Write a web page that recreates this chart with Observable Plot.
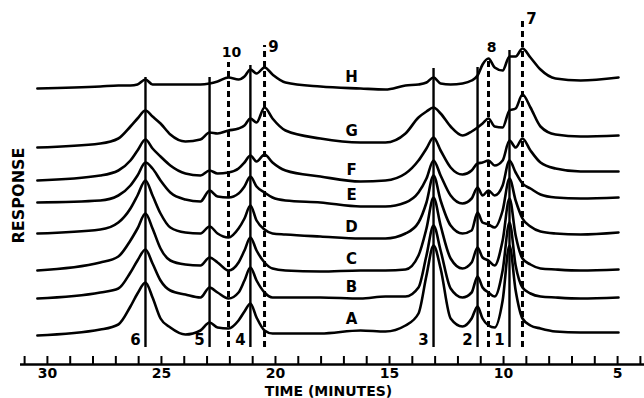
<!DOCTYPE html>
<html>
<head>
<meta charset="utf-8">
<script src="https://cdn.jsdelivr.net/npm/d3@7"></script>
<script src="https://cdn.jsdelivr.net/npm/@observablehq/plot@0.6"></script>
<style>
  html, body { margin: 0; padding: 0; background: #fff; }
  #chart svg { display: block; }
</style>
</head>
<body>
<div id="chart"></div>
<script>
// Retention time grid (minutes) shared by all traces
const times = [30.44, 27.68, 26.89, 26.36, 26.05, 25.70, 25.39, 25.04, 24.61, 23.95, 23.29, 22.89, 22.54, 22.06, 21.62, 21.36, 21.10, 20.83, 20.48, 20.13, 19.56, 18.03, 16.27, 15.18, 14.30, 13.73, 13.38, 13.07, 12.76, 12.32, 11.80, 11.40, 11.14, 10.92, 10.66, 10.39, 10.04, 9.74, 9.47, 9.17, 8.82, 8.38, 7.72, 6.62, 4.96];

// Detector response of each (offset-stacked) chromatogram, arbitrary units
const traceNames = ["A", "B", "C", "D", "E", "F", "G", "H"];
const traceA = [29, 35, 40, 58, 71, 82, 67, 46, 37, 30, 34, 42, 37, 36, 44, 53, 61, 47, 34, 31, 31, 31, 34, 33, 39, 51, 89, 119, 96, 46, 38, 46, 58, 46, 39, 37, 64, 119, 74, 46, 39, 36, 33, 32, 32];
const traceB = [66, 72, 76, 92, 104, 115, 101, 84, 74, 70, 67, 77, 72, 66, 72, 84, 97, 84, 72, 67, 67, 67, 66, 68, 68, 77, 109, 139, 114, 76, 67, 72, 88, 77, 72, 68, 94, 142, 99, 77, 71, 68, 67, 66, 67];
const traceC = [94, 102, 108, 124, 136, 151, 136, 116, 104, 100, 99, 107, 102, 94, 102, 114, 127, 114, 102, 96, 94, 93, 94, 94, 95, 109, 136, 167, 139, 106, 96, 102, 117, 107, 104, 99, 124, 166, 129, 106, 100, 96, 95, 94, 95];
const traceD = [131, 135, 142, 156, 169, 184, 169, 151, 137, 132, 131, 138, 131, 127, 136, 146, 159, 144, 135, 131, 130, 128, 126, 126, 131, 142, 162, 189, 164, 139, 131, 134, 152, 142, 140, 137, 154, 186, 164, 146, 138, 133, 131, 130, 132];
const traceE = [162, 164, 169, 179, 189, 202, 196, 184, 172, 165, 163, 174, 168, 167, 171, 178, 188, 178, 172, 167, 164, 162, 158, 158, 162, 172, 186, 204, 189, 169, 161, 166, 177, 169, 174, 169, 179, 204, 192, 181, 176, 170, 167, 166, 167];
const traceF = [184, 189, 194, 204, 214, 225, 216, 208, 199, 191, 189, 194, 191, 192, 196, 202, 209, 203, 210, 202, 194, 188, 183, 184, 191, 204, 216, 227, 214, 197, 190, 194, 201, 202, 204, 199, 204, 224, 217, 226, 214, 202, 196, 193, 193];
const traceG = [217, 221, 226, 238, 246, 254, 248, 241, 230, 223, 225, 232, 231, 234, 236, 239, 246, 242, 257, 246, 234, 226, 222, 222, 231, 247, 253, 257, 251, 238, 229, 233, 237, 241, 246, 238, 237, 254, 256, 270, 257, 238, 230, 228, 229];
const traceH = [276, 278, 279, 279, 280, 285, 280, 280, 280, 280, 280, 281, 283, 287, 285, 288, 295, 291, 297, 290, 282, 278, 276, 275, 279, 280, 282, 287, 281, 280, 281, 284, 289, 300, 306, 297, 294, 308, 308, 316, 307, 295, 286, 284, 287];

// Identified peaks
const peakIds = ["1", "2", "3", "4", "5", "6", "7", "8", "9", "10"];
const peakTimes = [9.74, 11.14, 13.07, 21.10, 22.89, 25.70, 9.17, 10.66, 20.48, 22.06];
const peakKind = ["solid", "solid", "solid", "solid", "solid", "solid", "dashed", "dashed", "dashed", "dashed"];
const peakLineTops = [314, 297, 296, 299, 287, 287, 347, 307, 319, 302];
const peakLineBottom = 17;

// Axis
const minuteTicks = d3.range(4, 32);
const labelTicks = [30, 25, 20, 15, 10, 5];
const xTitle = "TIME (MINUTES)";
const yTitle = "RESPONSE";

// ---- build tables ----
const traceValues = [traceA, traceB, traceC, traceD, traceE, traceF, traceG, traceH];
const rows = [];
traceNames.forEach((name, i) => {
  times.forEach((t, j) => rows.push({trace: name, t, r: traceValues[i][j]}));
});
const labelIndex = times.indexOf(16.27);
const traceLabels = traceNames.map((name, i) => ({name, t: times[labelIndex], r: traceValues[i][labelIndex]}));
const peaks = peakIds.map((id, i) => ({id, t: peakTimes[i], kind: peakKind[i], top: peakLineTops[i], bottom: peakLineBottom}));

const font = "DejaVu Sans, Liberation Sans, sans-serif";

const chart = Plot.plot({
  width: 644,
  height: 398,
  marginLeft: 20,
  marginRight: 0,
  marginTop: 14,
  marginBottom: 34,
  style: {fontFamily: font, background: "#fff", color: "#000"},
  x: {domain: [31.18, 3.82], axis: null},
  y: {domain: [0, 350], axis: null},
  marks: [
    // x axis line & minute ticks
    Plot.ruleY([0], {stroke: "#000", strokeWidth: 2.6}),
    Plot.ruleX(minuteTicks, {x: d => d, y1: 0, y2: 8, stroke: "#000", strokeWidth: 2}),
    Plot.text(labelTicks, {x: d => d, y: 0, text: d => String(d), dy: 4, lineAnchor: "top", fontSize: 14, fontWeight: "bold", fill: "#000"}),
    Plot.text([xTitle], {frameAnchor: "bottom", text: d => d, dy: 31.5, dx: -4, lineAnchor: "bottom", fontSize: 14, fontWeight: "bold", fill: "#000", style: "letter-spacing: 3.2px"}),
    Plot.text([yTitle], {frameAnchor: "left", text: d => d, rotate: -90, textAnchor: "middle", dx: -2, dy: 6, fontSize: 16, fontWeight: "bold", fill: "#000"}),
    // peak marker lines
    Plot.ruleX(peaks.filter(d => d.kind === "solid"), {x: "t", y1: "bottom", y2: "top", stroke: "#000", strokeWidth: 2.4}),
    Plot.ruleX(peaks.filter(d => d.kind === "dashed"), {x: "t", y1: "bottom", y2: "top", stroke: "#000", strokeWidth: 3, strokeDasharray: "6,4"}),
    // chromatograms
    Plot.line(rows, {x: "t", y: "r", z: "trace", curve: "monotone-x", stroke: "#000", strokeWidth: 2.6, strokeLinejoin: "round", strokeLinecap: "round"}),
    // trace labels
    Plot.text(traceLabels, {x: "t", y: "r", text: "name", dx: -9, dy: -11, fontSize: 15, fontWeight: "bold", fill: "#000"}),
    // peak number labels
    Plot.text(peaks.filter(d => d.kind === "solid"), {x: "t", y: "bottom", text: "id", dx: -10, dy: -7, fontSize: 15, fontWeight: "bold", fill: "#000"}),
    Plot.text(peaks.filter(d => d.id === "8" || d.id === "10"), {x: "t", y: "top", text: "id", dx: 3, dy: -10, fontSize: 14, fontWeight: "bold", fill: "#000"}),
    Plot.text(peaks.filter(d => d.id === "7" || d.id === "9"), {x: "t", y: "top", text: "id", dx: 9, dy: 2, fontSize: 15, fontWeight: "bold", fill: "#000"})
  ]
});
document.getElementById("chart").appendChild(chart);
</script>
</body>
</html>
